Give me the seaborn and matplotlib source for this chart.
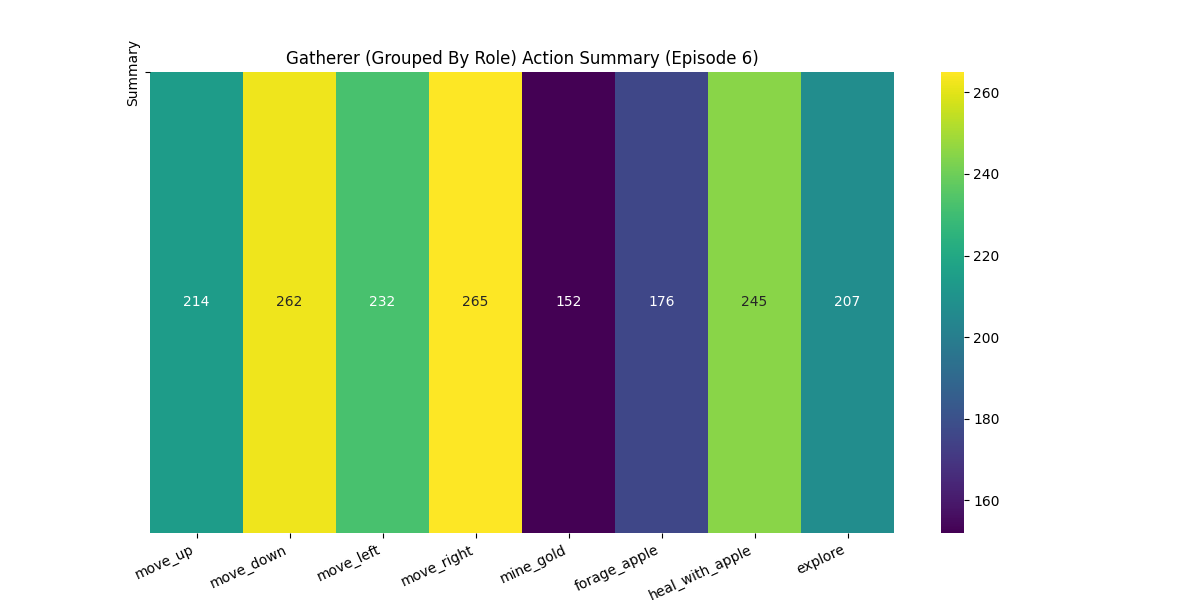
import numpy as np
import pandas as pd
import matplotlib
matplotlib.use("Agg")
import matplotlib.pyplot as plt
import seaborn as sns

actions = ["move_up", "move_down", "move_left", "move_right",
           "mine_gold", "forage_apple", "heal_with_apple", "explore"]
counts = [214, 262, 232, 265, 152, 176, 245, 207]

df = pd.DataFrame([counts], columns=actions, index=["Summary"])

fig = plt.figure(figsize=(12, 6), dpi=100)
ax = fig.add_axes([0.125, 0.112, 0.62, 0.768])
cax = fig.add_axes([0.784, 0.112, 0.019, 0.768])
sns.heatmap(df, annot=True, fmt="d", cmap="viridis", ax=ax, cbar_ax=cax)
ax.set_title("Gatherer (Grouped By Role) Action Summary (Episode 6)")
ax.set_yticks([0])
ax.set_yticklabels(["Summary"], rotation=90, va="center")
plt.setp(ax.get_xticklabels(), rotation=25, ha="right")
fig.savefig("out.png", dpi=100)
